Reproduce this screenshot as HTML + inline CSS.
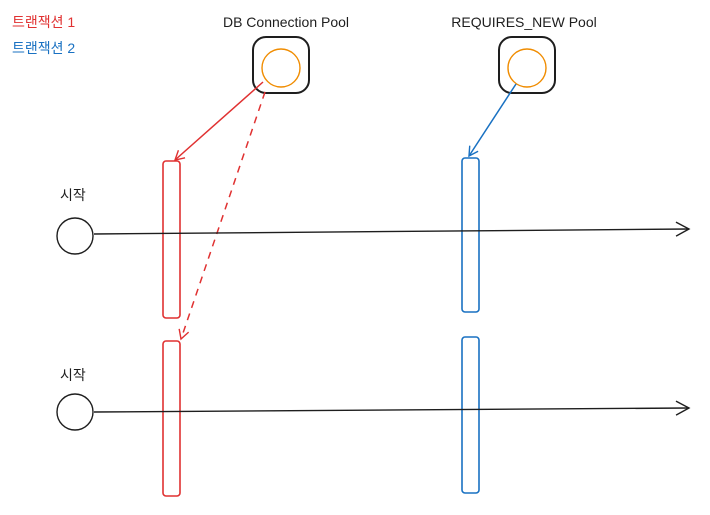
<!DOCTYPE html>
<html><head><meta charset="utf-8"><style>
body{margin:0;background:#fff;width:710px;height:515px;overflow:hidden}
svg{display:block}
text{font-family:"Liberation Sans","Noto Sans CJK KR",sans-serif;font-size:14px}
</style></head><body>
<svg width="710" height="515" viewBox="0 0 710 515">
<defs>
<marker id="ar" markerWidth="12" markerHeight="12" refX="10" refY="6" orient="auto" markerUnits="userSpaceOnUse"><path d="M1,1 L10,6 L1,11" fill="none" stroke="#e03131" stroke-width="1.4"/></marker>
<marker id="ab" markerWidth="12" markerHeight="12" refX="10" refY="6" orient="auto" markerUnits="userSpaceOnUse"><path d="M1,1 L10,6 L1,11" fill="none" stroke="#1971c2" stroke-width="1.4"/></marker>
<marker id="ak" markerWidth="16" markerHeight="16" refX="14" refY="8" orient="auto" markerUnits="userSpaceOnUse"><path d="M1,1 L14,8 L1,15" fill="none" stroke="#1e1e1e" stroke-width="1.4"/></marker>
</defs>
<text x="12" y="27" fill="#e03131">트랜잭션 1</text>
<text x="12" y="53" fill="#1971c2">트랜잭션 2</text>
<text x="286" y="27" text-anchor="middle" fill="#1e1e1e">DB Connection Pool</text>
<text x="524" y="27" text-anchor="middle" fill="#1e1e1e">REQUIRES_NEW Pool</text>
<rect x="253" y="37" width="56" height="56" rx="13" fill="none" stroke="#1e1e1e" stroke-width="2"/>
<circle cx="281" cy="68" r="19" fill="none" stroke="#f08c00" stroke-width="1.4"/>
<rect x="499" y="37" width="56" height="56" rx="13" fill="none" stroke="#1e1e1e" stroke-width="2"/>
<circle cx="527" cy="68" r="19" fill="none" stroke="#f08c00" stroke-width="1.4"/>
<rect x="163" y="161" width="17" height="157" rx="3" fill="none" stroke="#e03131" stroke-width="1.6"/>
<rect x="163" y="341" width="17" height="155" rx="3" fill="none" stroke="#e03131" stroke-width="1.6"/>
<rect x="462" y="158" width="17" height="154" rx="3" fill="none" stroke="#1971c2" stroke-width="1.6"/>
<rect x="462" y="337" width="17" height="156" rx="3" fill="none" stroke="#1971c2" stroke-width="1.6"/>
<line x1="263" y1="82" x2="175" y2="160" stroke="#e03131" stroke-width="1.5" marker-end="url(#ar)"/>
<line x1="265" y1="92" x2="181" y2="339" stroke="#e03131" stroke-width="1.5" stroke-dasharray="7 6" marker-end="url(#ar)"/>
<line x1="516" y1="84" x2="469" y2="156" stroke="#1971c2" stroke-width="1.5" marker-end="url(#ab)"/>
<text x="60" y="200" fill="#1e1e1e" font-size="13">시작</text>
<text x="60" y="380" fill="#1e1e1e" font-size="13">시작</text>
<circle cx="75" cy="236" r="18" fill="none" stroke="#1e1e1e" stroke-width="1.4"/>
<circle cx="75" cy="412" r="18" fill="none" stroke="#1e1e1e" stroke-width="1.4"/>
<line x1="94" y1="234" x2="689" y2="229" stroke="#1e1e1e" stroke-width="1.4" marker-end="url(#ak)"/>
<line x1="94" y1="412" x2="689" y2="408" stroke="#1e1e1e" stroke-width="1.4" marker-end="url(#ak)"/>
</svg>
</body></html>
